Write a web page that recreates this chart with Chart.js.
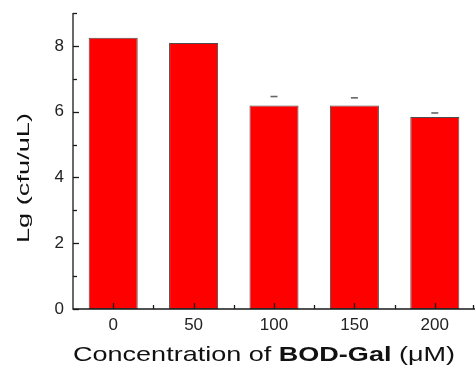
<!DOCTYPE html>
<html><head><meta charset="utf-8">
<script src="https://cdn.jsdelivr.net/npm/chart.js@4"></script>
<style>html,body{margin:0;padding:0;background:#fff;}#wrap{width:475px;height:378px;}</style>
</head><body><div id="wrap"><canvas id="c" width="475" height="378"></canvas></div>
<script>
const categories = ['0', '50', '100', '150', '200'];
const values = [8.25, 8.09, 6.19, 6.19, 5.84];
const errorCaps = [null, null, 6.46, 6.42, 5.96];
const yTicks = [0, 2, 4, 6, 8];
const yMinorTicks = [1, 3, 5, 7, 9];
const yMax = 9;
const yTitle = 'Lg (cfu/uL)';
const xTitleParts = [['Concentration of ', false], ['BOD-Gal', true], [' (μM)', false]];

const FONT = '"Liberation Sans", Arial, sans-serif';
const AX = '#1a1a1a';

const decor = {
  id: 'decor',
  afterDatasetsDraw(chart) {
    const ctx = chart.ctx, x = chart.scales.x, y = chart.scales.y;
    ctx.save();
    ctx.strokeStyle = '#666'; ctx.lineWidth = 1.6;
    errorCaps.forEach((v, i) => {
      if (v == null) return;
      const px = x.getPixelForValue(i), py = y.getPixelForValue(v);
      ctx.beginPath(); ctx.moveTo(px - 3.5, py); ctx.lineTo(px + 3.5, py); ctx.stroke();
    });
    ctx.restore();
  },
  afterDraw(chart) {
    const ctx = chart.ctx, x = chart.scales.x, y = chart.scales.y, a = chart.chartArea;
    ctx.save();
    ctx.strokeStyle = AX; ctx.lineWidth = 1.3;
    ctx.beginPath();
    ctx.moveTo(a.left, y.getPixelForValue(yMax)); ctx.lineTo(a.left, a.bottom); ctx.lineTo(a.right, a.bottom);
    ctx.stroke();
    yTicks.forEach(v => { const py = Math.round(y.getPixelForValue(v)) + 0.5; ctx.beginPath(); ctx.moveTo(a.left, py); ctx.lineTo(a.left + 6, py); ctx.stroke(); });
    yMinorTicks.forEach(v => { const py = Math.round(y.getPixelForValue(v)) + 0.5; ctx.beginPath(); ctx.moveTo(a.left, py); ctx.lineTo(a.left + 4, py); ctx.stroke(); });
    categories.forEach((c, i) => {
      const px = Math.round(x.getPixelForValue(i)) + 0.5;
      ctx.beginPath(); ctx.moveTo(px, a.bottom); ctx.lineTo(px, a.bottom - 6); ctx.stroke();
      if (i > 0) {
        const mx = Math.round((x.getPixelForValue(i - 1) + x.getPixelForValue(i)) / 2) + 0.5;
        ctx.beginPath(); ctx.moveTo(mx, a.bottom); ctx.lineTo(mx, a.bottom - 4); ctx.stroke();
      }
    });
    const last = categories.length - 1;
    const ex = x.getPixelForValue(last) + (x.getPixelForValue(last) - x.getPixelForValue(last - 1)) / 2 - 1.5;
    ctx.beginPath(); ctx.moveTo(ex, a.bottom); ctx.lineTo(ex, a.bottom - 4); ctx.stroke();

    ctx.fillStyle = '#111';
    ctx.textBaseline = 'alphabetic';
    let total = 0;
    xTitleParts.forEach(([t, b]) => { ctx.font = (b ? 'bold ' : '') + '21px ' + FONT; total += ctx.measureText(t).width; });
    const targetW = 382;
    ctx.save();
    ctx.translate(a.left, 361);
    ctx.scale(targetW / total, 1);
    let cx = 0;
    xTitleParts.forEach(([t, b]) => { ctx.font = (b ? 'bold ' : '') + '21px ' + FONT; ctx.fillText(t, cx, 0); cx += ctx.measureText(t).width; });
    ctx.restore();

    ctx.save();
    ctx.font = '17px ' + FONT;
    const w = ctx.measureText(yTitle).width;
    ctx.translate(29, 243);
    ctx.rotate(-Math.PI / 2);
    ctx.scale(130 / w, 1);
    ctx.fillText(yTitle, 0, 0);
    ctx.restore();
    ctx.restore();
  }
};

new Chart(document.getElementById('c'), {
  type: 'bar',
  data: {
    labels: categories,
    datasets: [{
      data: values,
      backgroundColor: '#ff0000',
      borderColor: '#4d4d4d',
      borderWidth: 1,
      borderSkipped: false,
      barPercentage: 0.61,
      categoryPercentage: 1
    }]
  },
  options: {
    responsive: false,
    animation: false,
    events: [],
    layout: { padding: { top: 13, left: 0, right: 0, bottom: 0 } },
    plugins: { legend: { display: false }, tooltip: { enabled: false } },
    scales: {
      x: {
        offset: true,
        grid: { display: false, drawTicks: false },
        border: { display: false },
        ticks: { color: '#222', font: { family: FONT, size: 17 }, padding: 6, maxRotation: 0 },
        afterFit(s) { s.height = 69; s.paddingLeft = 0; s.paddingRight = 0; }
      },
      y: {
        min: 0, max: yMax,
        grid: { display: false, drawTicks: false },
        border: { display: false },
        afterBuildTicks(s) { s.ticks = yTicks.map(v => ({ value: v })); },
        ticks: { color: '#222', font: { family: FONT, size: 17 }, padding: 9 },
        afterFit(s) { s.width = 73; s.paddingTop = 0; s.paddingBottom = 0; }
      }
    }
  },
  plugins: [decor]
});
</script>
</body></html>
